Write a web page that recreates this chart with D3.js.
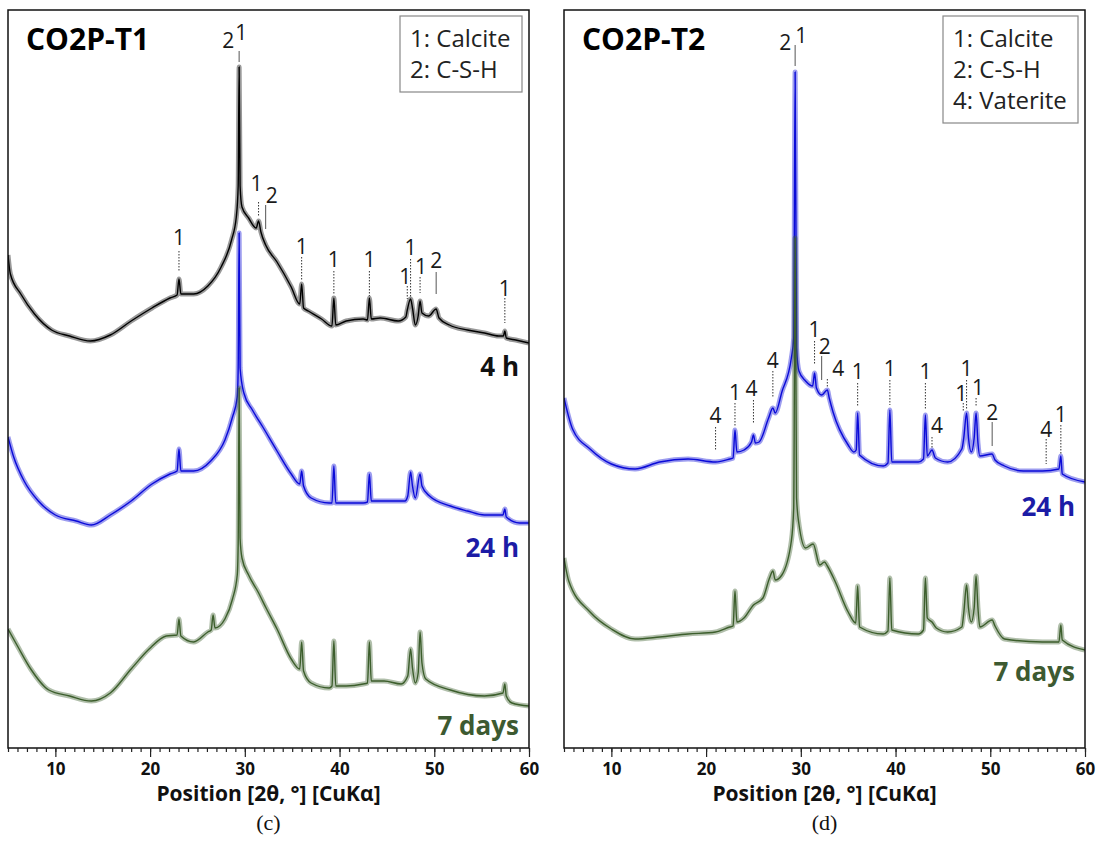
<!DOCTYPE html>
<html>
<head>
<meta charset="utf-8">
<script src="https://cdnjs.cloudflare.com/ajax/libs/d3/7.8.5/d3.min.js"></script>
<style>
  body { margin: 0; background: #fff; }
  svg { display: block; }
  text { font-family: "Open Sans", "DejaVu Sans", sans-serif; }
</style>
</head>
<body>
<svg id="chart" width="1100" height="842"></svg>
<script>
// [2theta, intensity (a.u.)], offsets included
const t1_4h = [[5.0,493],[5.25,474],[6.35,454],[7.8,434],[9.6,418],[11.5,412],[13.7,407],[15.8,413],[18.0,427],[20.2,440],[22.1,450],[22.85,453],[23.05,469],[23.25,454],[24.6,454],[26.1,462],[27.5,481],[28.6,508],[29.1,531],[29.3,562],[29.4,681],[29.5,562],[29.7,541],[30.4,530],[31.2,520],[31.45,527],[31.7,516],[32.2,503],[33.4,486],[34.9,461],[35.8,444],[36.0,464],[36.2,440],[36.7,437],[38.1,429],[39.2,422],[39.4,450],[39.6,423],[40.7,427],[42.5,429],[42.95,428],[43.15,450],[43.35,429],[44.3,430],[46.2,427],[47.0,431],[47.15,438],[47.5,449],[47.7,440],[48.0,423],[48.3,432],[48.5,447],[48.7,435],[49.4,432],[50.2,439],[50.5,430],[51.6,423],[53.5,418],[55.3,415],[56.8,412],[57.3,412],[57.45,417],[57.6,410],[58.6,408],[60,405]];
const t1_24h = [[5.0,311],[5.6,291],[6.7,267],[8.2,247],[10.0,233],[12.2,227],[13.8,223],[15.8,233],[18.0,247],[20.2,264],[22.1,274],[22.85,277],[23.05,299],[23.25,277],[24.6,277],[26.4,287],[27.9,308],[28.7,331],[29.2,351],[29.3,380],[29.4,515],[29.5,380],[29.9,355],[30.8,338],[31.9,321],[33.4,297],[34.9,274],[35.8,264],[36.0,277],[36.2,262],[37.0,250],[38.9,245],[39.2,245],[39.4,282],[39.6,245],[40.7,245],[42.5,245],[42.95,246],[43.15,274],[43.35,247],[45.1,247],[46.9,247],[47.2,252],[47.5,276],[47.7,262],[48.0,250],[48.5,274],[48.7,262],[49.5,252],[51.7,242],[53.5,237],[55.3,233],[57.25,233],[57.45,239],[57.6,231],[59.0,225],[60,225]];
const t1_7d = [[5.0,119],[6.0,102],[7.4,79],[9.3,58],[11.5,52],[13.8,47],[15.8,55],[18.0,79],[19.9,99],[21.7,112],[22.85,113],[23.05,129],[23.25,112],[24.6,106],[26.1,116],[26.45,118],[26.65,133],[26.85,120],[27.9,129],[28.7,149],[29.2,173],[29.3,205],[29.4,360],[29.5,210],[29.7,190],[30.4,173],[31.4,156],[32.3,139],[33.4,119],[34.9,89],[35.8,79],[36.0,106],[36.2,77],[37.0,65],[38.9,60],[39.2,62],[39.4,107],[39.6,62],[40.7,62],[42.5,64],[42.95,65],[43.15,106],[43.35,67],[44.7,67],[46.5,64],[47.2,72],[47.5,99],[47.7,80],[48.0,65],[48.3,75],[48.5,116],[48.7,85],[49.1,69],[51.7,58],[55.3,52],[57.25,55],[57.45,64],[57.6,52],[58.2,45],[60,42]];

const t2_24h = [[5.0,350],[5.9,319],[7.75,299],[10.0,284],[12.5,279],[15.1,286],[18.1,289],[21.0,286],[22.5,289],[22.85,290],[23.05,318],[23.25,296],[24.0,298],[24.8,306],[25.0,313],[25.2,305],[25.6,306],[26.6,330],[27.05,340],[27.3,335],[28.0,356],[29.0,390],[29.25,410],[29.4,676],[29.55,400],[29.8,377],[30.5,367],[31.25,362],[31.45,375],[31.65,360],[32.2,353],[32.8,358],[33.0,350],[33.4,336],[35.0,303],[35.6,296],[35.85,298],[36.0,335],[36.2,293],[38.7,282],[39.2,285],[39.4,338],[39.6,286],[42.4,286],[42.95,289],[43.15,333],[43.35,292],[43.85,298],[44.2,290],[45.5,286],[47.0,299],[47.2,310],[47.5,335],[47.7,310],[48.0,296],[48.3,310],[48.5,335],[48.7,305],[48.9,292],[50.2,294],[50.5,288],[51.5,282],[53.5,277],[55.5,277],[57.25,279],[57.45,292],[57.6,274],[60,266]];
const t2_7d = [[5.0,190],[5.5,167],[7.75,136],[10.0,119],[12.5,109],[15.1,111],[18.1,114],[21.0,116],[22.5,121],[22.85,122],[23.05,157],[23.25,126],[24.0,130],[25.0,143],[26.0,150],[26.7,170],[27.05,177],[27.3,168],[28.0,173],[29.0,207],[29.25,240],[29.4,510],[29.55,250],[29.8,224],[30.5,200],[31.3,204],[32.0,183],[32.5,186],[32.8,182],[33.6,167],[35.0,136],[35.8,125],[36.0,162],[36.2,121],[38.7,114],[39.2,117],[39.4,170],[39.6,118],[42.4,114],[42.95,118],[43.15,170],[43.35,130],[43.85,126],[44.3,120],[45.5,116],[47.0,121],[47.2,135],[47.5,163],[47.7,140],[48.0,126],[48.3,140],[48.5,172],[48.7,140],[48.9,121],[50.2,128],[50.5,122],[51.5,109],[55.5,106],[57.25,106],[57.45,123],[57.6,108],[60,98]];

// peak marks: [2theta, phase, label level, leader top, leader bottom]
const t1_marks = [[29.4,"2",708,697,686],[29.4,"1",716,null,null],[31.45,"1",565,546,531],[32.2,"2",553,543,519],[23.05,"1",511,497,476],[36.0,"1",502,491,467],[39.4,"1",489,477,454],[43.15,"1",489,477,452],[47.5,"1",501,489,450],[47.15,"1",472,462,449],[48.5,"1",482,471,455],[50.2,"2",488,476,454],[57.45,"1",460,450,425]];
const t1_nudge = [-11, 2, -2, 6, 0, 0, 0, 0, 0, -2, 1, 0, 0];
const t2_marks = [[29.4,"2",706,703,682],[29.4,"1",713,null,null],[21.0,"4",333,321,297],[23.05,"1",356,345,321],[25.0,"4",360,348,324],[27.05,"4",388,377,351],[31.45,"1",419,407,383],[32.2,"2",402,392,368],[32.8,"4",380,369,360],[36.0,"1",377,365,341],[39.4,"1",380,368,343],[43.15,"1",377,365,339],[43.85,"4",323,311,299],[47.5,"1",380,368,339],[47.15,"1",355,345,336],[48.5,"1",361,350,341],[50.2,"2",336,326,302],[55.9,"4",319,309,284],[57.45,"1",334,323,294]];
const t2_nudge = [-10, 6, 0, 0, -2, 0, 0, 3, 11, 0, 0, 0, 5, 0, -2, 2, 0, 0, 0];

const t1_legend = ["1: Calcite", "2: C-S-H"];
const t2_legend = ["1: Calcite", "2: C-S-H", "4: Vaterite"];
const seriesNames = ["4 h", "24 h", "7 days"];
const xTicks = [10, 20, 30, 40, 50, 60];

const colors = { "4 h": "#000000", "24 h": "#0a0ad8", "7 days": "#3c5e2c" };
const textColors = { "4 h": "#111111", "24 h": "#1c1ca6", "7 days": "#3d5a31" };

const svg = d3.select("#chart");

function panel(opt) {
  const x = d3.scaleLinear().domain([5, 60]).range([opt.left, opt.right]);
  const y = d3.scaleLinear().domain([0, 738]).range([748, 10]);
  const g = svg.append("g");

  g.append("clipPath").attr("id", opt.id + "clip")
    .append("rect")
    .attr("x", opt.left).attr("y", 10)
    .attr("width", opt.right - opt.left).attr("height", 738);

  const line = d3.line()
    .x(d => x(d[0]))
    .y(d => y(d[1]))
    .curve(d3.curveMonotoneX);

  const traces = g.append("g").attr("clip-path", `url(#${opt.id}clip)`);
  opt.series.forEach(s => {
    // wide faint stroke stands in for the counting noise band
    traces.append("path")
      .attr("d", line(s.data))
      .attr("fill", "none")
      .attr("stroke", colors[s.name])
      .attr("stroke-opacity", 0.4)
      .attr("stroke-width", 5)
      .attr("stroke-linejoin", "round");
    traces.append("path")
      .attr("d", line(s.data))
      .attr("fill", "none")
      .attr("stroke", colors[s.name])
      .attr("stroke-width", 1.4)
      .attr("stroke-linejoin", "round");
  });

  // frame
  g.append("rect")
    .attr("x", opt.left).attr("y", 10)
    .attr("width", opt.right - opt.left).attr("height", 738)
    .attr("fill", "none")
    .attr("stroke", "#111")
    .attr("stroke-width", 1.5);

  // bottom axis: minor ticks every degree, labels every 10
  const axis = g.append("g").attr("transform", "translate(0,748)");
  axis.call(d3.axisBottom(x).ticks(55).tickSize(4).tickFormat(""))
    .call(a => a.select(".domain").remove());
  axis.append("g")
    .call(d3.axisBottom(x).tickValues(xTicks).tickSize(9).tickPadding(6).tickFormat(d3.format("d")))
    .call(a => a.select(".domain").remove())
    .call(a => a.selectAll("text")
      .attr("fill", "#111")
      .style("font-size", "17px")
      .style("font-weight", "bold")
      .style("font-family", "'Open Sans', sans-serif"));
  axis.selectAll("line").attr("stroke", "#222").attr("stroke-width", 1.2);

  g.append("text")
    .attr("x", (opt.left + opt.right) / 2)
    .attr("y", 801)
    .attr("text-anchor", "middle")
    .attr("fill", "#111")
    .style("font-size", "21px")
    .style("font-weight", "bold")
    .text("Position [2θ, °] [CuKα]");

  g.append("text")
    .attr("x", (opt.left + opt.right) / 2)
    .attr("y", 830)
    .attr("text-anchor", "middle")
    .attr("fill", "#111")
    .style("font-family", "'Liberation Serif', serif")
    .style("font-size", "22px")
    .text(opt.tag);

  // title
  g.append("text")
    .attr("x", opt.left + 18)
    .attr("y", 50)
    .attr("fill", "#000")
    .style("font-size", "30px")
    .style("font-weight", "bold")
    .text(opt.title);

  // legend box
  const lg = g.append("g");
  const lw = opt.legend.length > 2 ? 135 : 122;
  lg.append("rect")
    .attr("x", opt.right - 7 - lw).attr("y", 16)
    .attr("width", lw).attr("height", 14 + opt.legend.length * 31)
    .attr("fill", "#fff")
    .attr("stroke", "#888")
    .attr("stroke-width", 1.2);
  lg.selectAll("text").data(opt.legend).join("text")
    .attr("x", opt.right - 7 - lw + 10)
    .attr("y", (d, i) => 47 + i * 31)
    .attr("fill", "#222")
    .style("font-size", "24px")
    .text(d => d);

  // peak leaders and phase numbers
  const marks = g.append("g");
  opt.marks.forEach((m, i) => {
    if (m[3] !== null) {
      marks.append("line")
        .attr("x1", x(m[0])).attr("x2", x(m[0]))
        .attr("y1", y(m[3])).attr("y2", y(m[4]))
        .attr("stroke", m[1] === "2" ? "#555" : "#333")
        .attr("stroke-width", 1)
        .attr("stroke-dasharray", m[1] === "2" ? null : "1.5,1.5");
    }
    marks.append("text")
      .attr("x", x(m[0]) + opt.nudge[i])
      .attr("y", y(m[2]))
      .attr("dy", "0.36em")
      .attr("text-anchor", "middle")
      .attr("fill", "#1a1a1a")
      .style("font-size", "21px")
      .text(m[1]);
  });

  // trace names
  opt.series.forEach(s => {
    g.append("text")
      .attr("x", opt.right - 10)
      .attr("y", y(opt.levels[s.name]))
      .attr("dy", "0.36em")
      .attr("text-anchor", "end")
      .attr("fill", textColors[s.name])
      .style("font-size", "26px")
      .style("font-weight", "bold")
      .text(s.name);
  });
}

panel({
  id: "c", left: 8, right: 529, title: "CO2P-T1", tag: "(c)",
  legend: t1_legend, marks: t1_marks, nudge: t1_nudge,
  series: [{ name: seriesNames[0], data: t1_4h }, { name: seriesNames[1], data: t1_24h }, { name: seriesNames[2], data: t1_7d }],
  levels: { "4 h": 381, "24 h": 200, "7 days": 22 }
});

panel({
  id: "d", left: 564, right: 1085, title: "CO2P-T2", tag: "(d)",
  legend: t2_legend, marks: t2_marks, nudge: t2_nudge,
  series: [{ name: seriesNames[1], data: t2_24h }, { name: seriesNames[2], data: t2_7d }],
  levels: { "24 h": 241, "7 days": 76 }
});
</script>
</body>
</html>
